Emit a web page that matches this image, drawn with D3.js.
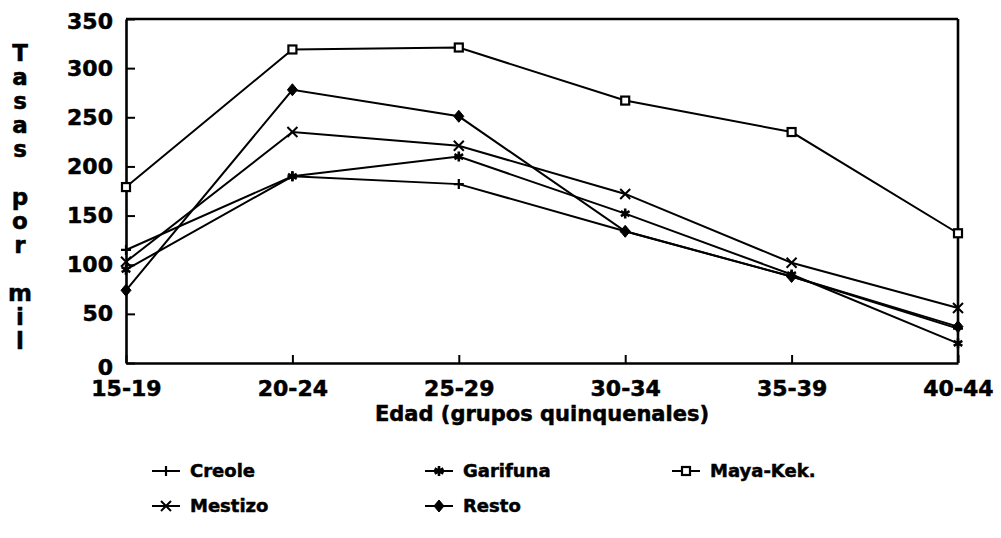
<!DOCTYPE html>
<html>
<head>
<meta charset="utf-8">
<script src="https://cdn.jsdelivr.net/npm/d3@7"></script>
<style>
  body { margin: 0; background: #fff; }
  svg text { font-family: "DejaVu Sans", sans-serif; font-weight: bold; fill: #000; stroke: #000; stroke-width: 0.5px; }
</style>
</head>
<body>
<div id="chart"></div>
<script>
// edad (grupos quinquenales) y tasas por mil
var ages = ["15-19", "20-24", "25-29", "30-34", "35-39", "40-44"];
var creole   = [115, 190, 182, 134, 88, 35];
var garifuna = [95, 190, 210, 152, 90, 20];
var mayaKek  = [179, 319, 321, 267, 235, 132];
var mestizo  = [103, 235, 221, 172, 102, 56];
var resto    = [74, 278, 251, 134, 88, 37];
var yTicks = [0, 50, 100, 150, 200, 250, 300, 350];
var yTitle = ["T", "a", "s", "a", "s", "", "p", "o", "r", "", "m", "i", "l"];

var series = [
    { name: "Creole",    values: creole,   mark: "plus" },
    { name: "Garifuna",  values: garifuna, mark: "star" },
    { name: "Maya-Kek.", values: mayaKek,  mark: "square" },
    { name: "Mestizo",   values: mestizo,  mark: "cross" },
    { name: "Resto",     values: resto,    mark: "diamond" }
];

var width = 1001, height = 538;
var plotLeft = 126, plotRight = 958, plotTop = 19, plotBottom = 363;

var svg = d3.select("#chart").append("svg")
    .attr("width", width)
    .attr("height", height);

var x = d3.scalePoint().domain(ages).range([plotLeft, plotRight]);
var y = d3.scaleLinear().domain([0, 350]).range([plotBottom, plotTop]);

// draws a marker of the given kind centred at 0,0
var drawMark = function(g, kind){
    var s = 5;
    if (kind == "plus") {
        g.append("path").attr("d", "M0," + (-s) + "V" + s + "M" + (-s) + ",0H" + s)
            .attr("stroke", "#000").attr("stroke-width", 2.2);
    } else if (kind == "star") {
        var d = "";
        for (var i = 0; i < 3; i++) {
            var a = Math.PI / 2 + i * Math.PI / 3;
            d += "M" + (-s * Math.cos(a)) + "," + (-s * Math.sin(a)) + "L" + (s * Math.cos(a)) + "," + (s * Math.sin(a));
        }
        g.append("path").attr("d", d).attr("stroke", "#000").attr("stroke-width", 2.6);
    } else if (kind == "square") {
        g.append("rect").attr("x", -4).attr("y", -4).attr("width", 8).attr("height", 8)
            .attr("fill", "#fff").attr("stroke", "#000").attr("stroke-width", 2.2);
    } else if (kind == "cross") {
        g.append("path").attr("d", "M-5,-5L5,5M-5,5L5,-5")
            .attr("stroke", "#000").attr("stroke-width", 2);
    } else if (kind == "diamond") {
        g.append("path").attr("d", "M0,-6L5,0L0,6L-5,0Z")
            .attr("fill", "#000").attr("stroke", "#000").attr("stroke-width", 1);
    }
}

// axes
var yAxis = d3.axisLeft(y)
    .tickValues(yTicks)
    .tickSizeInner(-9)
    .tickSizeOuter(0)
    .tickPadding(13);

var yg = svg.append("g")
    .attr("transform", "translate(" + plotLeft + ",0)")
    .call(yAxis);

var xAxis = d3.axisBottom(x)
    .tickSizeInner(-8)
    .tickSizeOuter(0)
    .tickPadding(17);

var xg = svg.append("g")
    .attr("transform", "translate(0," + plotBottom + ")")
    .call(xAxis);

[yg, xg].forEach(function(g){
    g.select(".domain").attr("stroke", "#000").attr("stroke-width", 2.6);
    g.selectAll(".tick line").attr("stroke", "#000").attr("stroke-width", 2);
    g.selectAll(".tick text").attr("font-size", 22).attr("fill", "#000");
});
yg.selectAll(".tick text").attr("dy", function(d){
    if (d == 0) return "0.5em";
    if (d == 350) return "0.45em";
    return "0.32em";
});

// top and right frame
svg.append("line")
    .attr("x1", plotLeft).attr("x2", plotRight).attr("y1", plotTop).attr("y2", plotTop)
    .attr("stroke", "#000").attr("stroke-width", 2.6);
svg.append("line")
    .attr("x1", plotRight).attr("x2", plotRight).attr("y1", plotTop).attr("y2", plotBottom)
    .attr("stroke", "#000").attr("stroke-width", 2.6);

// lines
var line = d3.line()
    .x(function(d, i){ return x(ages[i]); })
    .y(function(d){ return y(d); });

var sg = svg.append("g").selectAll("g")
    .data(series)
    .enter().append("g");

sg.append("path")
    .attr("d", function(d){ return line(d.values); })
    .attr("fill", "none")
    .attr("stroke", "#000")
    .attr("stroke-width", 2);

sg.each(function(s){
    var grp = d3.select(this);
    s.values.forEach(function(v, i){
        var m = grp.append("g").attr("transform", "translate(" + x(ages[i]) + "," + y(v) + ")");
        drawMark(m, s.mark);
    });
});

// axis titles
svg.append("text")
    .attr("x", 542)
    .attr("y", 421)
    .attr("text-anchor", "middle")
    .attr("font-size", 21)
    .text("Edad (grupos quinquenales)");

svg.append("g").selectAll("text")
    .data(yTitle)
    .enter().append("text")
    .attr("x", 20)
    .attr("y", function(d, i){ return 61 + i * 24; })
    .attr("text-anchor", "middle")
    .attr("font-size", 23)
    .text(function(d){ return d; });

// legend
var legendPos = [[190, 471], [463, 471], [710, 471], [190, 506], [463, 506]];
var lg = svg.append("g").selectAll("g")
    .data(series)
    .enter().append("g")
    .attr("transform", function(d, i){ return "translate(" + legendPos[i][0] + "," + legendPos[i][1] + ")"; });

lg.append("line")
    .attr("x1", -38).attr("x2", -10)
    .attr("stroke", "#000").attr("stroke-width", 2);
lg.each(function(s){
    var m = d3.select(this).append("g").attr("transform", "translate(-24,0)");
    drawMark(m, s.mark);
});
lg.append("text")
    .attr("x", 0)
    .attr("dy", "0.35em")
    .attr("font-size", 18)
    .text(function(d){ return d.name; });
</script>
</body>
</html>
